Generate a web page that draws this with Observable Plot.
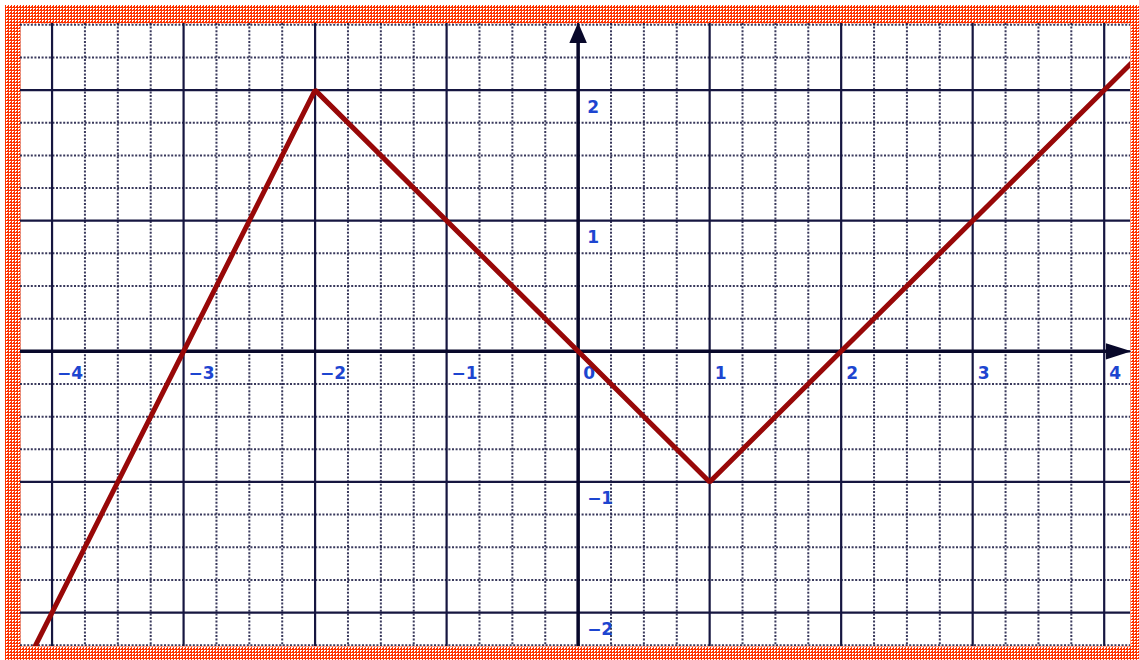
<!DOCTYPE html>
<html>
<head>
<meta charset="utf-8">
<script src="https://cdn.jsdelivr.net/npm/d3@7"></script>
<script src="https://cdn.jsdelivr.net/npm/@observablehq/plot@0.6"></script>
<style>
  html, body { margin: 0; padding: 0; background: #fff; }
  #wrap { position: relative; width: 1139px; height: 660px; background: #fff; overflow: hidden; }
  #checker {
    position: absolute; left: 5px; top: 5px; width: 1134px; height: 655px;
    background-color: #ff3300;
    background-image: conic-gradient(#ffffff 0 25%, transparent 0 100%);
    background-size: 3px 3px;
  }
  #chart { position: absolute; left: 0; top: 0; }
</style>
</head>
<body>
<div id="wrap"><div id="checker"></div><div id="chart"></div></div>
<script>
// Function graph vertices (piecewise linear)
const pointX = [-4.25, -3, -2, 0, 1, 2, 4.25];
const pointY = [-2.5, 0, 2, 0, -1, 0, 2.25];

// Tick labels
const xTicks = [-4, -3, -2, -1, 0, 1, 2, 3, 4];
const yTicks = [-2, -1, 1, 2];

const points = pointX.map((x, i) => ({x, y: pointY[i]}));
const fmt = d => d < 0 ? "\u2212" + (-d) : String(d);

const xDomain = [-4.24, 4.2];
const yDomain = [-2.26, 2.51];

const majorX = d3.range(-4, 5, 1);
const majorY = d3.range(-2, 3, 1);
const minorX = d3.range(-4.25, 4.26, 0.25).filter(v => Math.abs(v - Math.round(v)) > 1e-9);
const minorY = d3.range(-2.25, 2.51, 0.25).filter(v => Math.abs(v - Math.round(v)) > 1e-9);

const navy = "#161640";
const axisCol = "#08082a";
const labelCol = "#1d45d0";

const arrowUp = {
  draw(ctx, size) {
    const s = Math.sqrt(size);
    ctx.moveTo(0, -s * 0.55);
    ctx.lineTo(s * 0.45, s * 0.5);
    ctx.lineTo(-s * 0.45, s * 0.5);
    ctx.closePath();
  }
};
const arrowRight = {
  draw(ctx, size) {
    const s = Math.sqrt(size);
    ctx.moveTo(s * 0.6, 0);
    ctx.lineTo(-s * 0.6, s * 0.38);
    ctx.lineTo(-s * 0.6, -s * 0.38);
    ctx.closePath();
  }
};

const chart = Plot.plot({
  width: 1139,
  height: 660,
  marginLeft: 20,
  marginTop: 23,
  marginRight: 9,
  marginBottom: 14,
  style: {background: "transparent", overflow: "visible"},
  x: {domain: xDomain, axis: null},
  y: {domain: yDomain, axis: null},
  marks: [
    Plot.frame({fill: "white", stroke: "none"}),
    Plot.ruleX(minorX, {stroke: navy, strokeOpacity: 0.85, strokeWidth: 2, strokeDasharray: "2 1.6", clip: true}),
    Plot.ruleY(minorY, {stroke: navy, strokeOpacity: 0.85, strokeWidth: 2, strokeDasharray: "2 1.6", clip: true}),
    Plot.ruleX(majorX, {stroke: navy, strokeWidth: 2.2, clip: true}),
    Plot.ruleY(majorY, {stroke: navy, strokeWidth: 2.2, clip: true}),
    Plot.ruleY([0], {x1: xDomain[0], x2: 4.1, stroke: axisCol, strokeWidth: 3.5}),
    Plot.ruleX([0], {y1: yDomain[0], y2: 2.45, stroke: axisCol, strokeWidth: 3.5}),
    Plot.dot([0], {x: 4.11, y: 0, symbol: arrowRight, r: 12, fill: axisCol, stroke: "none"}),
    Plot.dot([0], {x: 0, y: 2.435, symbol: arrowUp, r: 11, fill: axisCol, stroke: "none"}),
    Plot.text(xTicks, {
      x: d => d, y: 0, text: fmt, dx: 5, dy: 22, textAnchor: "start",
      fill: labelCol, fontWeight: "bold", fontSize: 17, fontFamily: "DejaVu Sans"
    }),
    Plot.text(yTicks, {
      x: 0, y: d => d, text: fmt, dx: 9, dy: 17, textAnchor: "start",
      fill: labelCol, fontWeight: "bold", fontSize: 17, fontFamily: "DejaVu Sans"
    }),
    Plot.line(points, {x: "x", y: "y", stroke: "#980808", strokeWidth: 5, strokeLinejoin: "miter", clip: true})
  ]
});
document.getElementById("chart").appendChild(chart);
</script>
</body>
</html>
